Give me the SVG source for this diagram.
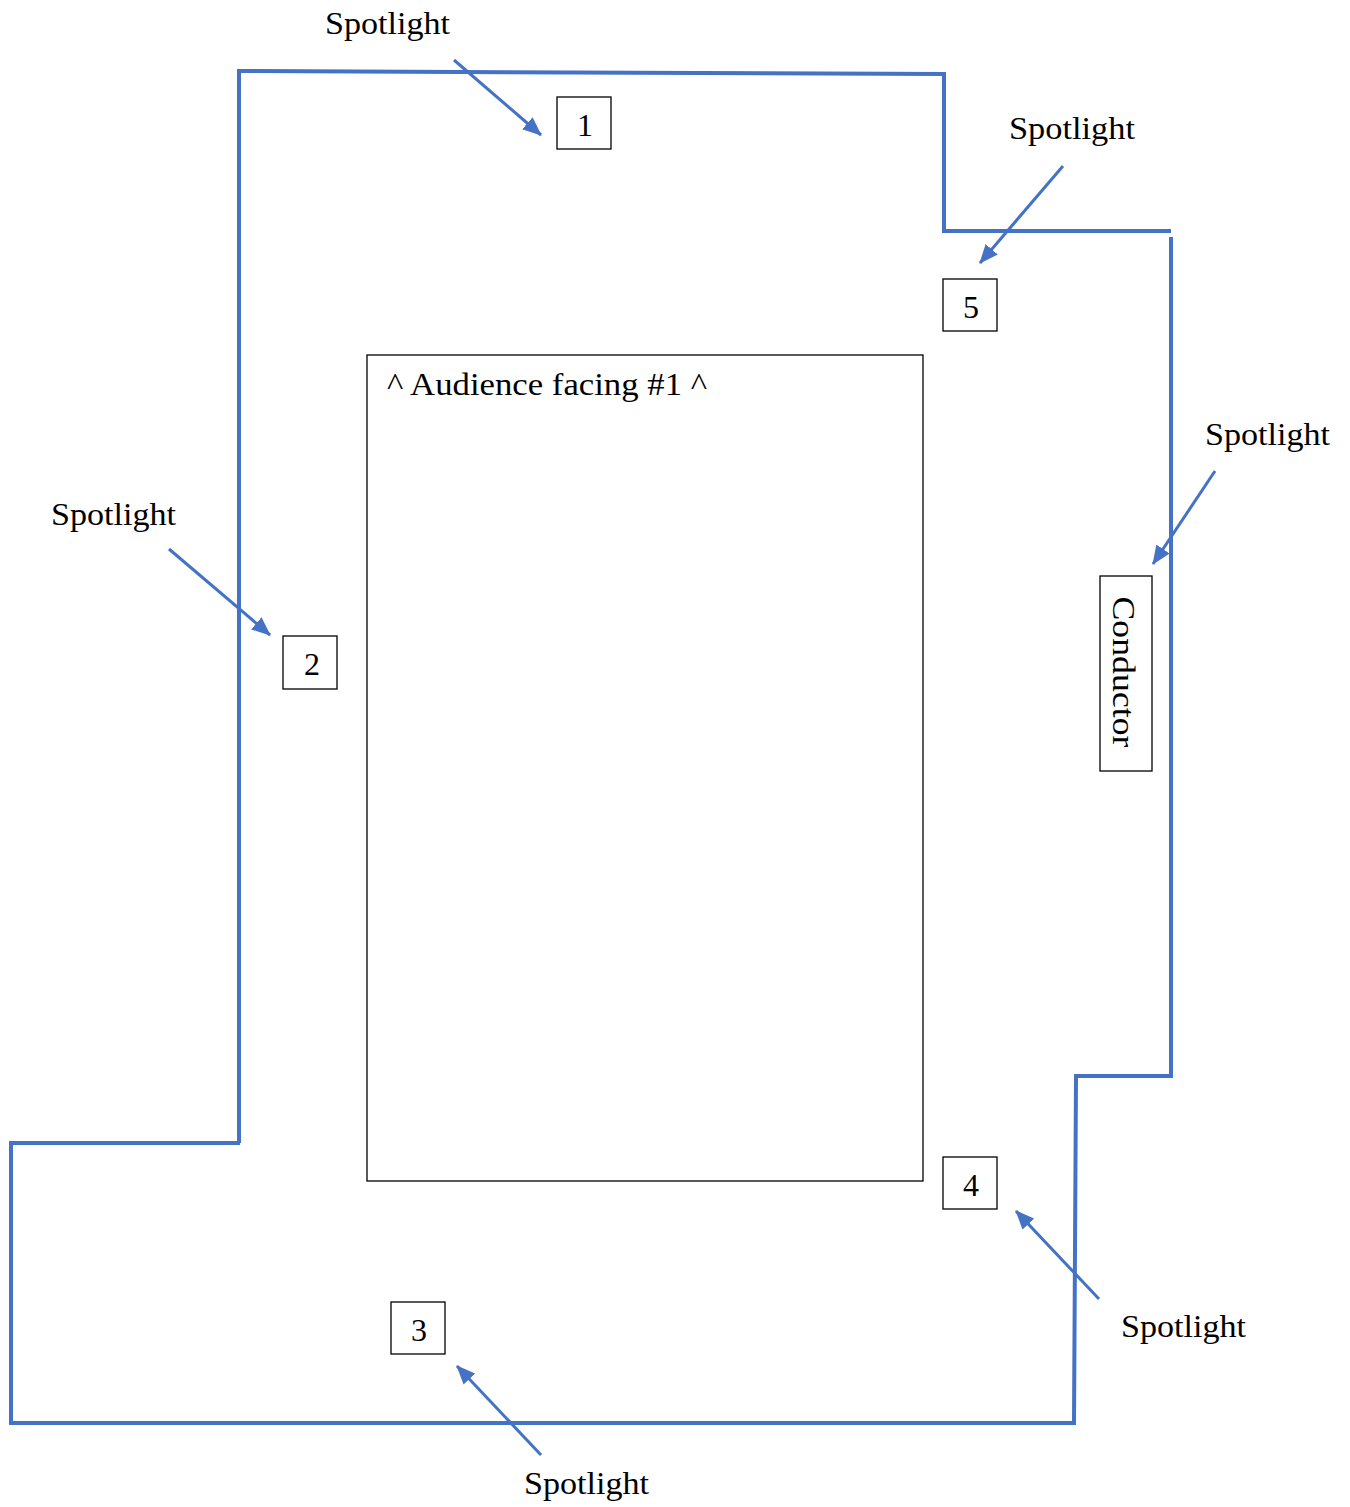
<svg xmlns="http://www.w3.org/2000/svg" width="1350" height="1507" viewBox="0 0 1350 1507">
<style>
.wall{fill:none;stroke:#4472C4;stroke-width:4;stroke-linejoin:miter}
.box{fill:#fff;stroke:#000;stroke-width:1.3}
.arr{fill:none;stroke:#4472C4;stroke-width:3;marker-end:url(#ah)}
text{font-family:"Liberation Serif","Times New Roman",serif;fill:#000;font-size:31px}
.num{text-anchor:middle;font-size:32px}
</style>
<defs>
<marker id="ah" markerUnits="userSpaceOnUse" markerWidth="20" markerHeight="16" refX="18" refY="8" orient="auto">
<path d="M0,0 L19,8 L0,16 z" fill="#4472C4"/>
</marker>
</defs>
<rect width="1350" height="1507" fill="#fff"/>
<g id="walls">
<polyline class="wall" points="239,1143 239,71 944,74 944,231 1171,231"/>
<polyline class="wall" points="1171,237 1171,1076 1076,1076 1074,1423 11,1423 11,1143 240,1143"/>
</g>
<g id="audience">
<rect class="box" x="367" y="355" width="556" height="826"/>
<text x="387" y="395" textLength="320" lengthAdjust="spacingAndGlyphs">^ Audience facing #1 ^</text>
</g>
<g id="n1"><rect class="box" x="557" y="97" width="54" height="52"/><text class="num" x="585" y="136">1</text></g>
<g id="n5"><rect class="box" x="943" y="279" width="54" height="52"/><text class="num" x="971" y="318">5</text></g>
<g id="n2"><rect class="box" x="283" y="636" width="54" height="53"/><text class="num" x="312" y="675">2</text></g>
<g id="n3"><rect class="box" x="391" y="1302" width="54" height="52"/><text class="num" x="419" y="1341">3</text></g>
<g id="n4"><rect class="box" x="943" y="1157" width="54" height="52"/><text class="num" x="971" y="1196">4</text></g>
<g id="conductor"><rect class="box" x="1100" y="576" width="52" height="195"/>
<text transform="translate(1113,672) rotate(90)" text-anchor="middle" textLength="151" lengthAdjust="spacingAndGlyphs">Conductor</text></g>
<g id="labels">
<text x="325" y="34" textLength="125" lengthAdjust="spacingAndGlyphs">Spotlight</text>
<text x="1009" y="139" textLength="126" lengthAdjust="spacingAndGlyphs">Spotlight</text>
<text x="1205" y="445" textLength="125" lengthAdjust="spacingAndGlyphs">Spotlight</text>
<text x="51" y="525" textLength="125" lengthAdjust="spacingAndGlyphs">Spotlight</text>
<text x="1121" y="1337" textLength="125" lengthAdjust="spacingAndGlyphs">Spotlight</text>
<text x="524" y="1494" textLength="125" lengthAdjust="spacingAndGlyphs">Spotlight</text>
</g>
<g id="connectors">
<line class="arr" x1="454" y1="60" x2="541" y2="135"/>
<line class="arr" x1="1063" y1="166" x2="980" y2="263"/>
<line class="arr" x1="1215" y1="471" x2="1153" y2="564"/>
<line class="arr" x1="169" y1="549" x2="270" y2="635"/>
<line class="arr" x1="1099" y1="1299" x2="1016" y2="1211"/>
<line class="arr" x1="541" y1="1455" x2="457" y2="1366"/>
</g>
</svg>
